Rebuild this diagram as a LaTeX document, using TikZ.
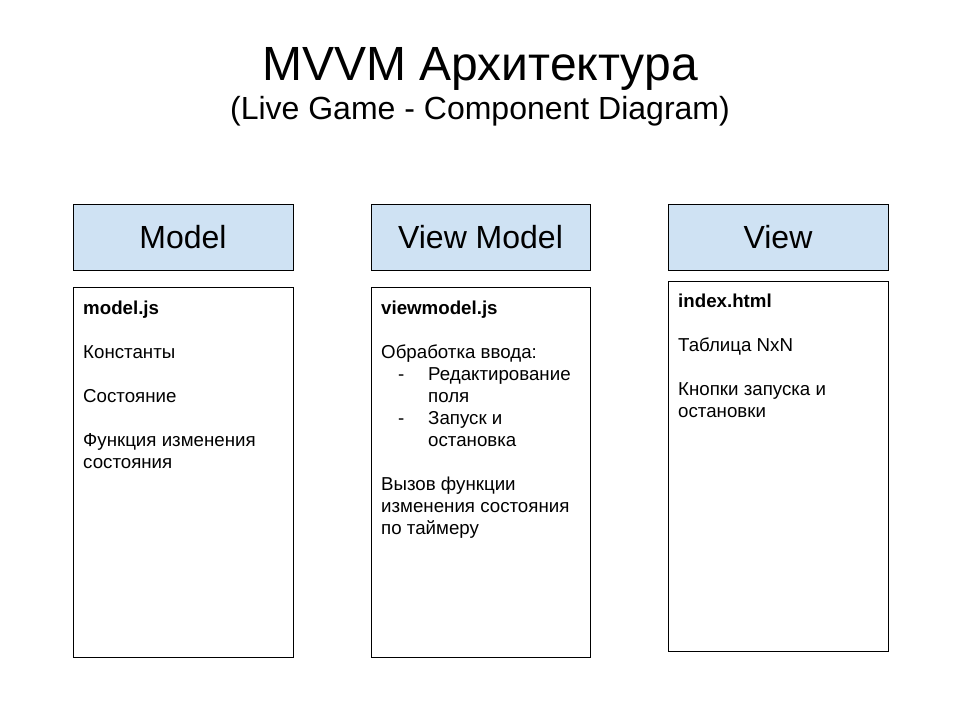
\documentclass[tikz,border=0pt]{standalone}
\usepackage{fontspec}
\setmainfont{Liberation Sans}
\definecolor{hdrblue}{HTML}{CFE2F3}
\definecolor{edge}{HTML}{000000}
\tikzset{
  hdr/.style={draw=edge, fill=hdrblue, line width=1pt},
  bodybox/.style={draw=edge, fill=white, line width=1pt},
  hdrtext/.style={inner sep=0pt, anchor=base, font=\fontsize{32}{36}\selectfont},
  ln/.style={inner sep=0pt, anchor=base west, font=\fontsize{18.7}{22}\selectfont},
}
\begin{document}
\begin{tikzpicture}[x=1pt,y=-1pt]
\useasboundingbox (0,0) rectangle (960,720);
\fill[white] (0,0) rectangle (960,720);
% titles
\node[inner sep=0pt, anchor=base, font=\fontsize{48}{52}\selectfont] (title) at (480,80) {MVVM Архитектура};
\node[inner sep=0pt, anchor=base, font=\fontsize{32}{36}\selectfont] (subtitle) at (480,119) {(Live Game - Component Diagram)};
% headers
\draw[hdr] (73,204) rectangle (293,270);
\draw[hdr] (371,204) rectangle (590,270);
\draw[hdr] (668,204) rectangle (888,270);
\node[hdrtext] (hm) at (183,248.5) {Model};
\node[hdrtext] (hvm) at (480.5,248.5) {View Model};
\node[hdrtext] (hv) at (778,248.5) {View};
% bodies
\draw[bodybox] (73,287) rectangle (293,657);
\draw[bodybox] (371,287) rectangle (590,657);
\draw[bodybox] (668,281) rectangle (888,651);
% model text
\node[ln] (m1) at (83,314) {\textbf{model.js}};
\node[ln] (m2) at (83,358) {Константы};
\node[ln] (m3) at (83,402) {Состояние};
\node[ln] (m4) at (83,446) {Функция изменения};
\node[ln] (m5) at (83,468) {состояния};
% viewmodel text
\node[ln] (v1) at (381,314) {\textbf{viewmodel.js}};
\node[ln] (v2) at (381,358) {Обработка ввода:};
\node[ln] (v3d) at (398,380) {-};
\node[ln] (v3) at (428,380) {Редактирование};
\node[ln] (v4) at (428,402) {поля};
\node[ln] (v5d) at (398,424) {-};
\node[ln] (v5) at (428,424) {Запуск и};
\node[ln] (v6) at (428,446) {остановка};
\node[ln] (v7) at (381,490) {Вызов функции};
\node[ln] (v8) at (381,512) {изменения состояния};
\node[ln] (v9) at (381,534) {по таймеру};
% view text
\node[ln] (w1) at (678,307) {\textbf{index.html}};
\node[ln] (w2) at (678,351) {Таблица NxN};
\node[ln] (w3) at (678,395) {Кнопки запуска и};
\node[ln] (w4) at (678,417) {остановки};
\end{tikzpicture}
\end{document}
